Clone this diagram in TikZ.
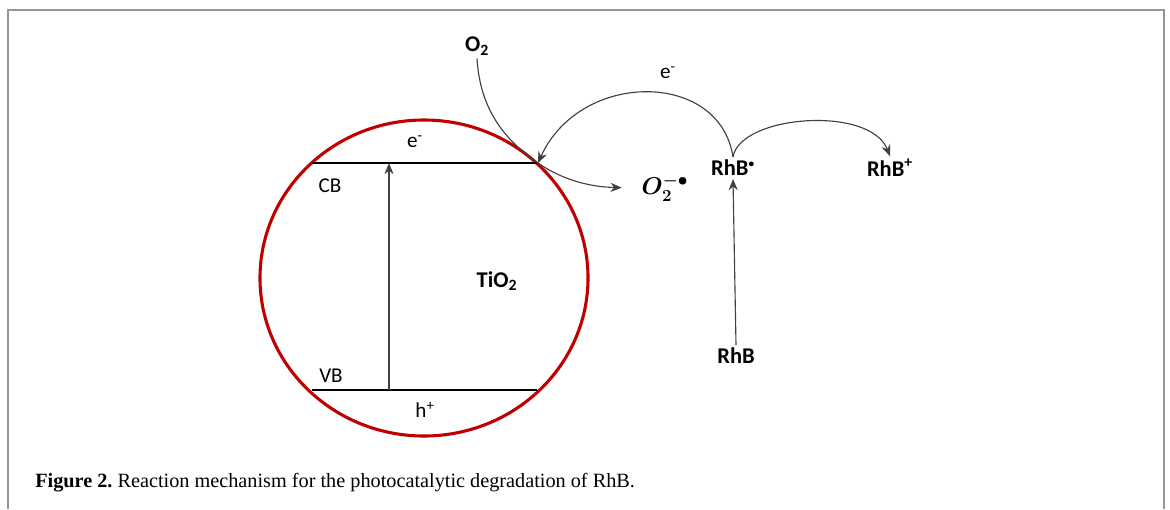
\documentclass[tikz,border=0pt]{standalone}
\usepackage{fontspec}
\setmainfont{Liberation Serif}
\newfontfamily\labelfont{Carlito}
\usepackage{tikz}
\usetikzlibrary{arrows.meta,positioning,calc}
\definecolor{ringRed}{RGB}{192,0,0}
\definecolor{curveGray}{RGB}{64,64,64}
\definecolor{frameGray}{RGB}{150,150,150}

\tikzset{
  lbl/.style={font=\labelfont\fontsize{15}{18}\selectfont, inner sep=2pt},
  blbl/.style={font=\labelfont\bfseries\fontsize{16}{19}\selectfont, inner sep=2pt},
  band/.style={line width=1.3pt, black},
  flow/.style={-{Stealth[length=8pt, width=6.5pt]}, line width=0.8pt, curveGray}
}

\begin{document}
\begin{tikzpicture}[x=0.025cm, y=-0.025cm]
  \useasboundingbox (0,0) rectangle (1170,509);
  % frame
  \draw[frameGray, line width=1.5pt] (8,509) -- (8,10) -- (1164,10) -- (1164,509);

  % TiO2 particle
  \draw[ringRed, line width=2.2pt] (424,278) ellipse [x radius=164, y radius=158];
  \coordinate (cbL) at (312,163);
  \coordinate (cbR) at (538,163);
  \coordinate (vbL) at (312,390);
  \coordinate (vbR) at (537,390);
  \coordinate (exBot) at (389,390);
  \coordinate (exTop) at (389,163);
  \draw[band] (cbL) -- (cbR);
  \draw[band] (vbL) -- (vbR);
  \draw[flow] (exBot) -- (exTop);

  \node[lbl] (eCB) at (415,142) {e\textsuperscript{-}};
  \node[lbl] (cb) at (330,186) {CB};
  \node[lbl] (vb) at (331,376) {VB};
  \node[lbl] (hVB) at (425,410) {h\textsuperscript{+}};
  \node[blbl] (tio) at (497,281) {TiO\textsubscript{2}};

  % species
  \node[blbl] (o2) at (477,46) {O\textsubscript{2}};
  \node[inner sep=2pt, font=\boldmath\fontsize{17}{20}\selectfont] (o2rad) at (665,188) {$O_2^{-\bullet}$};
  \node[blbl] (rhbr) at (733,168) {RhB\textsuperscript{\footnotesize\textbullet}};
  \node[blbl] (rhbp) at (890,168) {RhB\textsuperscript{+}};
  \node[blbl] (rhb) at (736,356) {RhB};
  \node[lbl] (eTop) at (668,73) {e\textsuperscript{-}};

  % electron transfer
  \draw[flow, shorten >=12pt] (o2.south) .. controls (480,110) and (505,140) .. (cbR)
    .. controls (564,181) and (592,187) .. (o2rad.west);
  \draw[flow] (rhbr.north) .. controls (720,70) and (580,70) .. (cbR);
  \draw[flow] (rhbr.north) .. controls (740,115) and (870,105) .. (rhbp.north);
  \draw[flow] (rhb.north) -- (rhbr.south);

  % caption
  \node[anchor=base west, inner sep=0pt, font=\fontsize{14.4}{17}\selectfont] (cap) at (35,487)
    {\frenchspacing\textbf{Figure 2.} Reaction mechanism for the photocatalytic degradation of RhB.};
\end{tikzpicture}
\end{document}
